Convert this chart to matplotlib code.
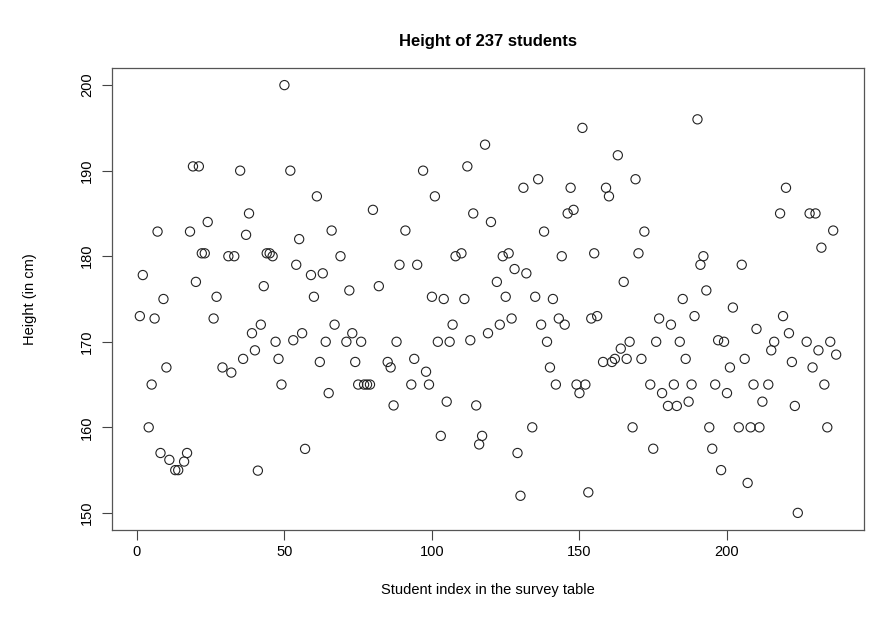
import matplotlib
matplotlib.use("Agg")
import matplotlib.pyplot as plt

# row number in the survey table and the height recorded there (rows with no height are skipped)
student_index = [
    1, 2, 4, 5, 6, 7, 8, 9, 10, 11, 13, 14, 16, 17, 18, 19, 20, 21, 22, 23,
    24, 26, 27, 29, 31, 32, 33, 35, 36, 37, 38, 39, 40, 41, 42, 43, 44, 45, 46, 47,
    48, 49, 50, 52, 53, 54, 55, 56, 57, 59, 60, 61, 62, 63, 64, 65, 66, 67, 69, 71,
    72, 73, 74, 75, 76, 77, 78, 79, 80, 82, 85, 86, 87, 88, 89, 91, 93, 94, 95, 97,
    98, 99, 100, 101, 102, 103, 104, 105, 106, 107, 108, 110, 111, 112, 113, 114, 115, 116, 117, 118,
    119, 120, 122, 123, 124, 125, 126, 127, 128, 129, 130, 131, 132, 134, 135, 136, 137, 138, 139, 140,
    141, 142, 143, 144, 145, 146, 147, 148, 149, 150, 151, 152, 153, 154, 155, 156, 158, 159, 160, 161,
    162, 163, 164, 165, 166, 167, 168, 169, 170, 171, 172, 174, 175, 176, 177, 178, 180, 181, 182, 183,
    184, 185, 186, 187, 188, 189, 190, 191, 192, 193, 194, 195, 196, 197, 198, 199, 200, 201, 202, 204,
    205, 206, 207, 208, 209, 210, 211, 212, 214, 215, 216, 218, 219, 220, 221, 222, 223, 224, 227, 228,
    229, 230, 231, 232, 233, 234, 235, 236, 237,
]
height_cm = [
    173, 177.8, 160, 165, 172.72, 182.88, 157, 175, 167, 156.2, 155, 155, 156, 157, 182.88, 190.5, 177, 190.5, 180.34, 180.34,
    184, 172.72, 175.26, 167, 180, 166.4, 180, 190, 168, 182.5, 185, 171, 169, 154.94, 172, 176.5, 180.34, 180.34, 180, 170,
    168, 165, 200, 190, 170.18, 179, 182, 171, 157.48, 177.8, 175.26, 187, 167.64, 178, 170, 164, 183, 172, 180, 170,
    176, 171, 167.64, 165, 170, 165, 165, 165, 185.42, 176.5, 167.64, 167, 162.56, 170, 179, 183, 165, 168, 179, 190,
    166.5, 165, 175.26, 187, 170, 159, 175, 163, 170, 172, 180, 180.34, 175, 190.5, 170.18, 185, 162.56, 158, 159, 193.04,
    171, 184, 177, 172, 180, 175.26, 180.34, 172.72, 178.5, 157, 152, 188, 178, 160, 175.26, 189, 172, 182.88, 170, 167,
    175, 165, 172.72, 180, 172, 185, 188, 185.42, 165, 164, 195, 165, 152.4, 172.72, 180.34, 173, 167.64, 188, 187, 167.64,
    168, 191.8, 169.2, 177, 168, 170, 160, 189, 180.34, 168, 182.88, 165, 157.5, 170, 172.72, 164, 162.5, 172, 165, 162.5,
    170, 175, 168, 163, 165, 173, 196, 179, 180, 176, 160, 157.5, 165, 170.18, 155, 170, 164, 167, 174, 160,
    179, 168, 153.5, 160, 165, 171.5, 160, 163, 165, 169, 170, 185, 173, 188, 171, 167.64, 162.5, 150, 170, 185,
    167, 185, 169, 181, 165, 160, 170, 183, 168.5,
]

plt.rcParams["font.family"] = ["Liberation Sans", "DejaVu Sans"]

fig = plt.figure(figsize=(8.72, 6.25), dpi=100)
ax = fig.add_axes([112 / 872, 1 - 530 / 625, 752 / 872, 462 / 625])

ax.scatter(student_index, height_cm, s=44, facecolors="none", edgecolors="#222222", linewidths=0.8)

# base-R style limits: data range padded by 4 %
ax.set_xlim(1 - 0.04 * 236, 237 + 0.04 * 236)
ax.set_ylim(150 - 0.04 * 50, 200 + 0.04 * 50)
ax.set_xticks([0, 50, 100, 150, 200])
ax.set_yticks([150, 160, 170, 180, 190, 200])
ax.tick_params(axis="both", direction="out", length=7, width=0.8, color="#444444", labelsize=10.5)
ax.tick_params(axis="x", pad=4)
ax.tick_params(axis="y", pad=6)
for lab in ax.get_yticklabels():
    lab.set_rotation(90)
    lab.set_va("center")
for sp in ax.spines.values():
    sp.set_color("#555555")
    sp.set_linewidth(0.9)

ax.set_title("Height of 237 students", fontsize=12, fontweight="bold", pad=16)
ax.set_xlabel("Student index in the survey table", fontsize=10.5)
ax.set_ylabel("Height (in cm)", fontsize=10.5)
ax.xaxis.set_label_coords(0.5, -0.115)
ax.yaxis.set_label_coords(-0.1, 0.5)

fig.savefig("out.png", dpi=100)
